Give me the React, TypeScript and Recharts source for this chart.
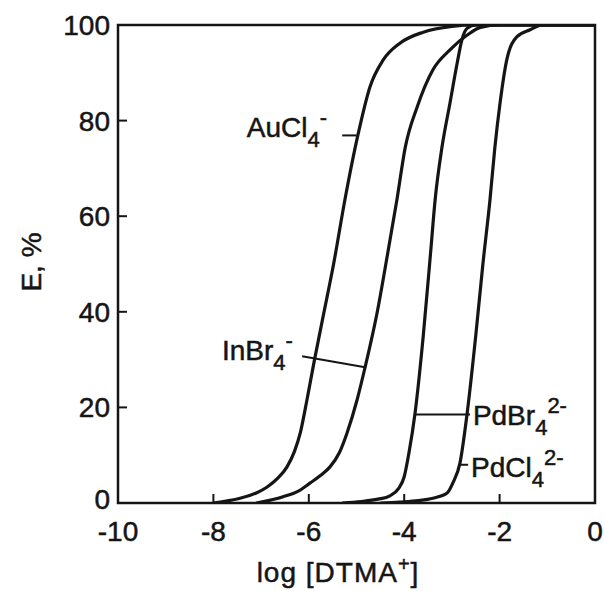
import { LineChart, Line, XAxis, YAxis, ReferenceArea, ReferenceLine, ReferenceDot } from "recharts";

// log [DTMA+] / E %
const auX = [-8.0, -7.44, -7.1, -6.88, -6.65, -6.46, -6.3, -6.18, -6.04, -5.88, -5.68, -5.48, -5.24, -4.97, -4.72, -4.44, -4.09, -3.6, -3.0, -2.5, 0];
const auE = [0, 1, 2.1, 3.3, 5.2, 7.5, 10.8, 14.6, 21.5, 30, 40, 50, 63.6, 77, 87, 92.7, 96.2, 98.5, 99.7, 100, 100];

const inX = [-7.1, -6.54, -6.2, -5.97, -5.75, -5.56, -5.36, -5.2, -4.99, -4.82, -4.57, -4.35, -4.15, -3.98, -3.73, -3.4, -3.04, -2.68, -2.4, -2.0, 0];
const inE = [0, 1.3, 2.6, 4.2, 5.8, 7.5, 10.5, 14.6, 21.5, 28.4, 39.7, 52, 63.6, 74.3, 82.8, 90.6, 94.8, 97.9, 99.5, 100, 100];

const pdBrX = [-5.3, -4.9, -4.55, -4.3, -4.12, -4.0, -3.9, -3.77, -3.6, -3.45, -3.35, -3.21, -3.04, -2.89, -2.79, -2.68, -2.5, 0];
const pdBrE = [0, 0.3, 0.8, 1.5, 3, 5.5, 10.5, 19, 35, 52, 63.6, 74.3, 83.7, 92, 96.9, 99.3, 100, 100];

const pdClX = [-4.5, -4.1, -3.7, -3.4, -3.1, -2.98, -2.83, -2.68, -2.5, -2.35, -2.2, -2.1, -1.99, -1.85, -1.64, -1.36, -1.1, 0];
const pdClE = [0, 0.2, 0.5, 1, 2.1, 4.2, 8.4, 18.8, 35, 50, 63.6, 74.3, 83.7, 92.7, 97.5, 99, 100, 100];

const xTicks = [-10, -8, -6, -4, -2, 0];
const yTicks = [0, 20, 40, 60, 80, 100];

const toRows = (xs: number[], ys: number[]) => xs.map((x, i) => ({ x, e: ys[i] }));

const series = [
  { name: "AuCl4-", data: toRows(auX, auE) },
  { name: "InBr4-", data: toRows(inX, inE) },
  { name: "PdBr4 2-", data: toRows(pdBrX, pdBrE) },
  { name: "PdCl4 2-", data: toRows(pdClX, pdClE) },
];

// curve labels: text anchor (left, baseline) and leader line ends
const labels = [
  { base: "AuCl", sub: "4", sup: "-", x: -7.3, y: 76.6, lx: [-5.3, -5.0], ly: [76.9, 76.9] },
  { base: "InBr", sub: "4", sup: "-", x: -7.82, y: 29.9, lx: [-6.14, -4.82], ly: [30.7, 28.4] },
  { base: "PdBr", sub: "4", sup: "2-", x: -2.56, y: 16.3, lx: [-3.77, -2.62], ly: [18.5, 18.5] },
  { base: "PdCl", sub: "4", sup: "2-", x: -2.6, y: 5.4, lx: [-2.83, -2.66], ly: [8, 8] },
];

const ink = "#151515";
const font = "'Liberation Sans', Arial, sans-serif";
const heavy = { stroke: ink, strokeWidth: 0.5 };

const XTick = ({ x, y, payload }: any) => (
  <g>
    {payload.value !== -10 && payload.value !== 0 && (
      <line x1={x} x2={x} y1={y} y2={y - 9} stroke={ink} strokeWidth={2} />
    )}
    <text x={x} y={y + 38} textAnchor="middle" fontSize={28} fill={ink} fontFamily={font} {...heavy}>
      {payload.value}
    </text>
  </g>
);

const YTick = ({ x, y, payload }: any) => (
  <g>
    {payload.value !== 0 && payload.value !== 100 && (
      <line x1={x} x2={x + 9} y1={y} y2={y} stroke={ink} strokeWidth={2} />
    )}
    <text
      x={x - 8}
      y={y + (payload.value === 0 ? 6 : 10)}
      textAnchor="end"
      fontSize={28}
      fill={ink}
      fontFamily={font}
      {...heavy}
    >
      {payload.value}
    </text>
  </g>
);

const CurveLabel = ({ cx, cy, item }: any) => (
  <text x={cx} y={cy} fontSize={28} fill={ink} fontFamily={font} {...heavy}>
    {item.base}
    <tspan fontSize={22} dy={10}>{item.sub}</tspan>
    <tspan fontSize={22} dy={-22}>{item.sup}</tspan>
  </text>
);

export default function App() {
  return (
    <div style={{ position: "absolute", left: 0, top: 0, background: "#fff" }}>
      <LineChart width={605} height={591} margin={{ top: 25, right: 10, left: 0, bottom: 0 }}>
        <XAxis
          type="number"
          dataKey="x"
          domain={[-10, 0]}
          ticks={xTicks}
          allowDataOverflow
          axisLine={false}
          tickLine={false}
          tickSize={0}
          tickMargin={0}
          height={88}
          tick={<XTick />}
          label={{
            content: () => (
              <text x={338} y={582} textAnchor="middle" fontSize={28} fill={ink} fontFamily={font} letterSpacing={1} {...heavy}>
                log [DTMA
                <tspan fontSize={20} dy={-11}>+</tspan>
                <tspan dy={11}>]</tspan>
              </text>
            ),
          }}
        />
        <YAxis
          type="number"
          domain={[0, 100]}
          ticks={yTicks}
          allowDataOverflow
          axisLine={false}
          tickLine={false}
          tickSize={0}
          tickMargin={0}
          width={118}
          tick={<YTick />}
          label={{
            content: () => (
              <text
                x={0}
                y={0}
                transform="translate(41 262) rotate(-90)"
                textAnchor="middle"
                fontSize={28}
                fill={ink}
                fontFamily={font}
                {...heavy}
              >
                E, %
              </text>
            ),
          }}
        />
        {series.map((s) => (
          <Line
            key={s.name}
            data={s.data}
            dataKey="e"
            type="monotone"
            stroke={ink}
            strokeWidth={3.2}
            dot={false}
            isAnimationActive={false}
          />
        ))}
        <ReferenceArea x1={-10} x2={0} y1={0} y2={100} fill="none" stroke={ink} strokeWidth={2.5} ifOverflow="visible" />
        {labels.map((l) => (
          <ReferenceLine
            key={l.base + "-lead"}
            segment={[
              { x: l.lx[0], y: l.ly[0] },
              { x: l.lx[1], y: l.ly[1] },
            ]}
            stroke={ink}
            strokeWidth={2}
          />
        ))}
        {labels.map((l) => (
          <ReferenceDot key={l.base} x={l.x} y={l.y} r={0} shape={(p: any) => <CurveLabel {...p} item={l} />} />
        ))}
      </LineChart>
    </div>
  );
}
